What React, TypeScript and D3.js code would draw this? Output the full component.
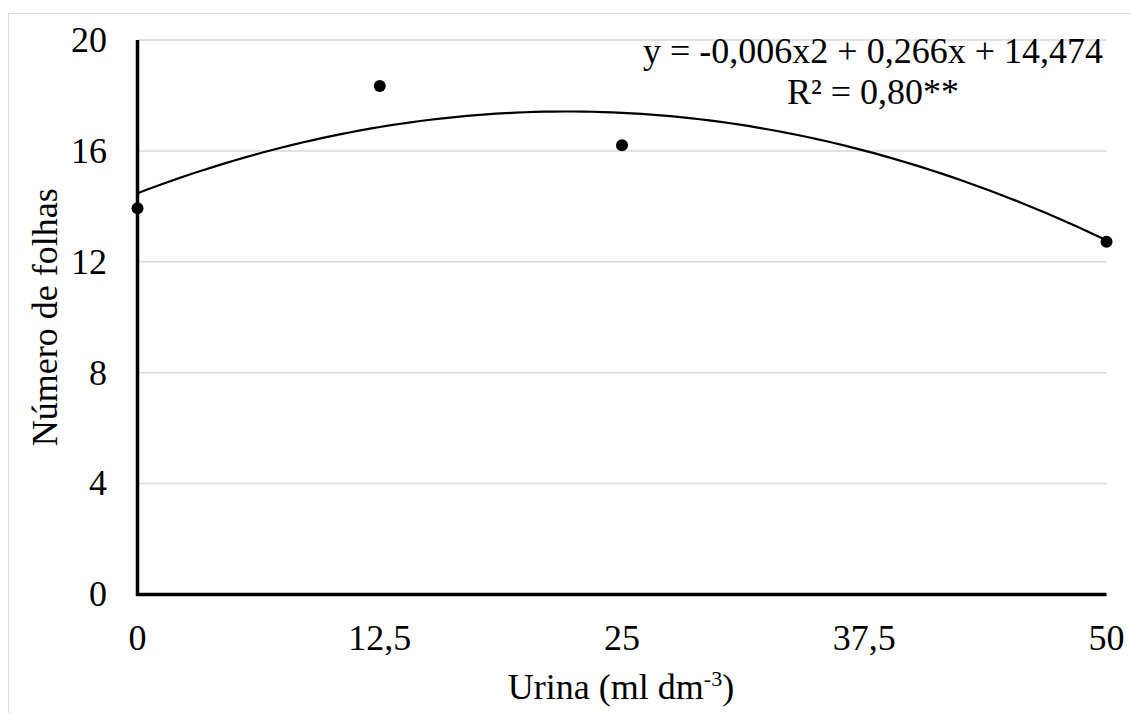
import React, { useRef, useEffect } from 'react';
import * as d3 from 'd3';

// urine dose (ml dm-3) and leaf count
const doses = [0, 12.5, 25, 50];
const leafCounts = [13.93, 18.34, 16.2, 12.72];
const xTicks = [0, 12.5, 25, 37.5, 50];
const yTicks = [0, 4, 8, 12, 16, 20];
// fitted quadratic shown on the chart: a*x^2 + b*x + c
const fitCoefs = [-0.006, 0.266, 14.474];
const equationLines = ['y = -0,006x2 + 0,266x + 14,474', 'R² = 0,80**'];

const FONT = "'Liberation Serif', 'Times New Roman', serif";

const App = () => {
  const svgRef = useRef<SVGSVGElement>(null);
  const width = 1131;
  const height = 713;

  useEffect(() => {
    const svg = d3.select(svgRef.current);
    svg.selectAll('*').remove();

    const margin = { left: 137.5, right: 1106.5, top: 40, bottom: 594.5 };
    const x = d3.scaleLinear().domain([0, 50]).range([margin.left, margin.right]);
    const y = d3.scaleLinear().domain([0, 20]).range([margin.bottom, margin.top]);
    const fmt = d3.formatLocale({ decimal: ',', thousands: '.', grouping: [3], currency: ['', ''] }).format('~g');

    // outer chart-area frame
    svg.append('rect')
      .attr('x', 8.5).attr('y', 13.5)
      .attr('width', 1125).attr('height', 720)
      .attr('fill', 'none').attr('stroke', '#d9d9d9').attr('stroke-width', 1);

    // horizontal gridlines
    svg.append('g')
      .selectAll('line')
      .data(yTicks.filter(t => t > 0))
      .enter().append('line')
      .attr('x1', margin.left).attr('x2', margin.right)
      .attr('y1', d => y(d)).attr('y2', d => y(d))
      .attr('stroke', '#d9d9d9').attr('stroke-width', 1.5);

    // axes lines
    svg.append('line')
      .attr('x1', margin.left).attr('x2', margin.left)
      .attr('y1', margin.top).attr('y2', margin.bottom + 1.5)
      .attr('stroke', '#000').attr('stroke-width', 3.5);
    svg.append('line')
      .attr('x1', margin.left - 1.5).attr('x2', margin.right)
      .attr('y1', margin.bottom).attr('y2', margin.bottom)
      .attr('stroke', '#000').attr('stroke-width', 3.5);

    // tick labels
    svg.append('g')
      .selectAll('text')
      .data(yTicks)
      .enter().append('text')
      .attr('x', 107).attr('y', d => y(d))
      .attr('dy', '0.33em')
      .attr('text-anchor', 'end')
      .attr('font-family', FONT).attr('font-size', 36)
      .text(d => fmt(d));

    svg.append('g')
      .selectAll('text')
      .data(xTicks)
      .enter().append('text')
      .attr('x', d => x(d)).attr('y', 650)
      .attr('text-anchor', 'middle')
      .attr('font-family', FONT).attr('font-size', 36)
      .text(d => fmt(d));

    // trendline
    const [a, b, c] = fitCoefs;
    const curveXs = d3.range(0, 50.001, 0.5);
    const line = d3.line<number>()
      .x(d => x(d))
      .y(d => y(a * d * d + b * d + c));
    svg.append('path')
      .datum(curveXs)
      .attr('d', line)
      .attr('fill', 'none').attr('stroke', '#000').attr('stroke-width', 2.2);

    // observed points
    svg.append('g')
      .selectAll('circle')
      .data(doses.map((d, i) => ({ dose: d, value: leafCounts[i] })))
      .enter().append('circle')
      .attr('cx', d => x(d.dose)).attr('cy', d => y(d.value))
      .attr('r', 6).attr('fill', '#000');

    // equation
    svg.append('g')
      .selectAll('text')
      .data(equationLines)
      .enter().append('text')
      .attr('x', 873).attr('y', (d, i) => 63 + i * 41)
      .attr('text-anchor', 'middle')
      .attr('font-family', FONT).attr('font-size', 36)
      .text(d => d);

    // axis titles
    const xTitle = svg.append('text')
      .attr('x', 621).attr('y', 699)
      .attr('text-anchor', 'middle')
      .attr('font-family', FONT).attr('font-size', 36);
    xTitle.append('tspan').text('Urina (ml dm');
    xTitle.append('tspan').attr('font-size', 22).attr('dy', -13).text('-3');
    xTitle.append('tspan').attr('dy', 13).text(')');

    svg.append('text')
      .attr('transform', `translate(57,${(margin.top + margin.bottom) / 2}) rotate(-90)`)
      .attr('text-anchor', 'middle')
      .attr('font-family', FONT).attr('font-size', 36)
      .text('Número de folhas');
  }, []);

  return (
    <svg
      ref={svgRef}
      width={width}
      height={height}
      style={{ position: 'absolute', left: 0, top: 0, background: '#fff' }}
    ></svg>
  );
};

export default App;
